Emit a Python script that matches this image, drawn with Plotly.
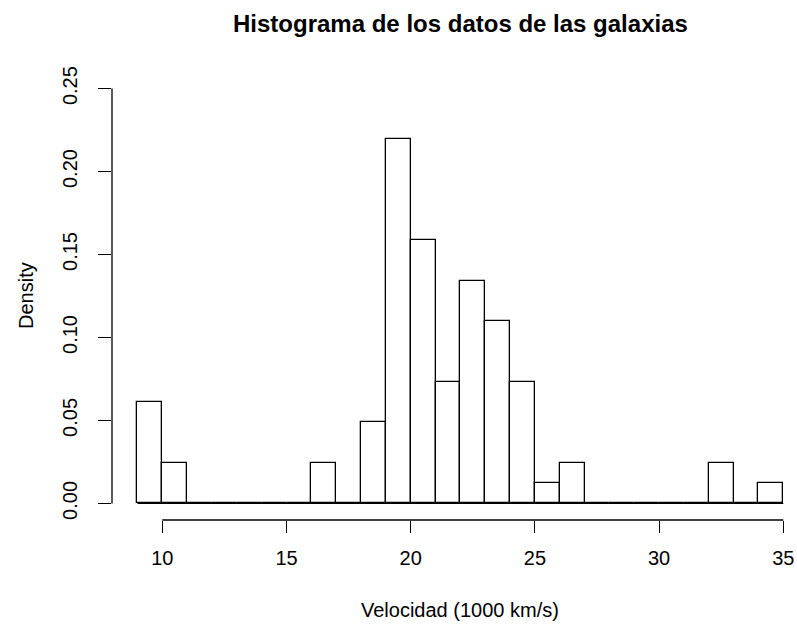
import plotly.graph_objects as go

# Galaxy velocities (1000 km/s), histogram with unit-width bins
breaks = list(range(9, 36))
counts = [5, 2, 0, 0, 0, 0, 0, 2, 0, 4, 18, 13, 6, 11, 9, 6, 1, 2, 0, 0, 0, 0, 0, 2, 0, 1]
x_ticks = [10, 15, 20, 25, 30, 35]
y_ticks = [0.00, 0.05, 0.10, 0.15, 0.20, 0.25]
y_tick_text = ["0.00", "0.05", "0.10", "0.15", "0.20", "0.25"]

title_text = "Histograma de los datos de las galaxias"
x_title = "Velocidad (1000 km/s)"
y_title = "Density"

n = sum(counts)
mids = [(a + b) / 2 for a, b in zip(breaks[:-1], breaks[1:])]
widths = [b - a for a, b in zip(breaks[:-1], breaks[1:])]
density = [c / (n * w) for c, w in zip(counts, widths)]

FONT = "Liberation Sans, Arial, Helvetica, sans-serif"
LW = 1.3

fig = go.Figure()
fig.add_trace(go.Bar(
    x=mids, y=density, width=widths,
    marker=dict(color="white", line=dict(color="black", width=LW)),
    hoverinfo="x+y", showlegend=False,
))

W, H = 797, 626
ml, mr, mt, mb = 112, 0, 72, 106
px_per_unit = 24.84
x0 = 7.975
x1 = x0 + (W - ml - mr) / px_per_unit

fig.update_layout(
    width=W, height=H,
    margin=dict(l=ml, r=mr, t=mt, b=mb, pad=0),
    paper_bgcolor="white", plot_bgcolor="white",
    font=dict(family=FONT, size=20, color="black"),
    bargap=0,
    xaxis=dict(
        range=[x0, x1], tickvals=x_ticks, ticks="outside", ticklen=12,
        tickwidth=LW, tickcolor="black", showline=False, showgrid=False,
        zeroline=False, tickfont=dict(size=20), ticklabelstandoff=8,
    ),
    yaxis=dict(
        range=[-0.01, 0.26], tickvals=y_ticks, ticktext=y_tick_text,
        ticks="outside", ticklen=13, tickwidth=LW, tickcolor="black",
        showline=False, showgrid=False, zeroline=False, tickangle=-90,
        tickfont=dict(size=20), ticklabelstandoff=13,
    ),
)

# Axis lines spanning only the first to last tick
fig.add_shape(type="line", xref="x", yref="paper",
              x0=x_ticks[0], x1=x_ticks[-1], y0=0, y1=0,
              line=dict(color="black", width=LW))
fig.add_shape(type="line", xref="paper", yref="y",
              x0=0, x1=0, y0=y_ticks[0], y1=y_ticks[-1],
              line=dict(color="black", width=LW))
# Baseline under the bins (empty bins show as a flat line)
fig.add_shape(type="line", xref="x", yref="y",
              x0=breaks[0], x1=breaks[-1], y0=0, y1=0,
              line=dict(color="black", width=LW))

plot_h = H - mt - mb
plot_w = W - ml - mr
xc = (breaks[0] + breaks[-1]) / 2

fig.add_annotation(text="<b>" + title_text + "</b>", xref="x", yref="paper",
                   x=xc, y=(H - mb - 24) / plot_h, xanchor="center", yanchor="middle",
                   showarrow=False, font=dict(size=24, family=FONT))
fig.add_annotation(text=x_title, xref="x", yref="paper",
                   x=xc, y=(H - mb - 610) / plot_h, xanchor="center", yanchor="middle",
                   showarrow=False, font=dict(size=20, family=FONT))
fig.add_annotation(text=y_title, xref="paper", yref="paper",
                   x=(26 - ml) / plot_w, y=0.5, xanchor="center", yanchor="middle",
                   textangle=-90, showarrow=False, font=dict(size=20, family=FONT))

fig.write_html("out.html")
